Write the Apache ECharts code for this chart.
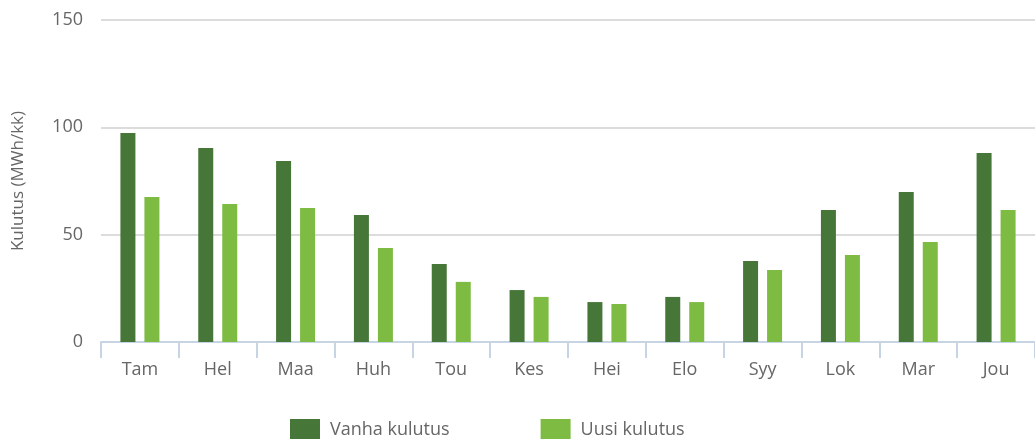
<!DOCTYPE html>
<html>
<head>
<meta charset="utf-8">
<script src="https://cdn.jsdelivr.net/npm/echarts@6/dist/echarts.min.js"></script>
<style>html,body{margin:0;padding:0;background:#fff}#c{width:1035px;height:439px}</style>
</head>
<body>
<div id="c"></div>
<script>
const categories = ['Tam','Hel','Maa','Huh','Tou','Kes','Hei','Elo','Syy','Lok','Mar','Jou'];
const vanhaKulutus = [97.4, 90.4, 84.3, 59.2, 36.3, 24.2, 18.6, 21.0, 37.7, 61.5, 69.9, 88.1];
const uusiKulutus = [67.6, 64.3, 62.4, 43.8, 28.0, 21.0, 17.7, 18.6, 33.5, 40.5, 46.6, 61.5];
const yAxisName = 'Kulutus (MWh/kk)';
const seriesNames = ['Vanha kulutus', 'Uusi kulutus'];

const FONT = '"Open Sans", "Noto Sans", sans-serif';
const chart = echarts.init(document.getElementById('c'), null, {renderer: 'canvas'});
chart.setOption({
  animation: false,
  color: ['#477738', '#7dbb42'],
  grid: {left: 101, right: -2, top: 20, bottom: 97, containLabel: false},
  legend: {
    left: 285, top: 414,
    itemWidth: 30, itemHeight: 21, itemGap: 91,
    icon: 'rect',
    textStyle: {color: '#666', fontSize: 18, fontFamily: FONT, padding: [0, 0, 0, 5]},
    data: seriesNames
  },
  xAxis: {
    type: 'category',
    data: categories,
    boundaryGap: true,
    axisLine: {lineStyle: {color: '#c6d4e3', width: 2}},
    axisTick: {show: true, length: 16, lineStyle: {color: '#c6d4e3', width: 2}},
    axisLabel: {color: '#666', fontSize: 18, fontFamily: FONT, margin: 19}
  },
  yAxis: {
    type: 'value',
    min: 0, max: 150, interval: 50,
    name: yAxisName,
    nameLocation: 'middle',
    nameGap: 74,
    nameTextStyle: {color: '#666', fontSize: 17, fontFamily: FONT},
    axisLine: {show: false},
    axisTick: {show: false},
    axisLabel: {color: '#666', fontSize: 18, fontFamily: FONT, margin: 18},
    splitLine: {lineStyle: {color: '#dcdcdc', width: 2}}
  },
  series: [
    {name: seriesNames[0], type: 'bar', data: vanhaKulutus, barWidth: 15, barGap: '60%'},
    {name: seriesNames[1], type: 'bar', data: uusiKulutus, barWidth: 15, barGap: '60%'}
  ]
});
</script>
</body>
</html>
